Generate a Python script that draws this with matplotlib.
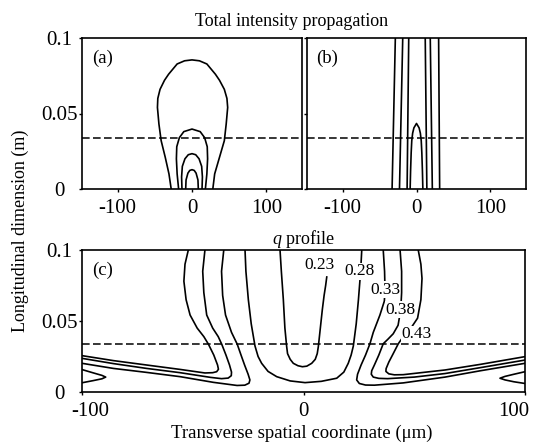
import numpy as np
import matplotlib
matplotlib.use("Agg")
import matplotlib.pyplot as plt
from matplotlib.transforms import ScaledTranslation

plt.rcParams['font.family'] = ['Liberation Serif', 'DejaVu Serif']
plt.rcParams['mathtext.fontset'] = 'custom'
plt.rcParams['mathtext.rm'] = 'Liberation Serif'
plt.rcParams['mathtext.it'] = 'Liberation Serif:italic'
plt.rcParams['axes.unicode_minus'] = False

# ---- data: x in um, z in m ----
z_mark = 0.034  # dashed reference plane

# (a) total intensity, closed contours sitting on z = 0
a_x1 = [-28, -31, -36, -41.5, -44.5, -46.5, -46, -43, -37, -31.5, -20, -10, 0,
        10, 20, 31.5, 37, 43.5, 47, 48, 46, 43.5, 37, 30.5, 28]
a_z1 = [0, 0.010, 0.021, 0.032, 0.043, 0.054, 0.060, 0.066, 0.072, 0.076, 0.0828, 0.0849, 0.0855,
        0.0849, 0.0828, 0.076, 0.072, 0.066, 0.060, 0.054, 0.043, 0.032, 0.021, 0.010, 0]
a_x2 = [-18, -20, -21, -20.5, -17, -11, 0, 11, 17, 20.5, 21, 20, 18]
a_z2 = [0, 0.010, 0.020, 0.028, 0.034, 0.038, 0.0397, 0.038, 0.034, 0.028, 0.020, 0.010, 0]
a_x3 = [-13.5, -14, -13, -9.5, -5, 0, 5, 9.5, 13, 14, 13.5]
a_z3 = [0, 0.008, 0.015, 0.020, 0.0227, 0.0234, 0.0227, 0.020, 0.015, 0.008, 0]
a_x4 = [-8.5, -8, -5.5, -3, 0, 3, 5.5, 8, 8.5]
a_z4 = [0, 0.006, 0.0105, 0.0123, 0.0128, 0.0123, 0.0105, 0.006, 0]

# (b) near-vertical contours (bottom x, top x) and the small arch
b_x_bot = [-33, -23, -12.7, 14, 21.4, 31.3]
b_x_top = [-28.6, -18.6, -10.5, 11.8, 18.6, 29.9]
b_arch_x = [-8.6, -8, -7.2, -6.4, -5.2, -3.5, 0, 3.5, 5.2, 6.4, 7.2, 8, 8.6]
b_arch_z = [0, 0.012, 0.024, 0.032, 0.037, 0.0405, 0.0434, 0.0405, 0.037, 0.032, 0.024, 0.012, 0]

# (c) q profile contours
q023_x = [-10.6, -10, -9.1, -8.4, -7.6, -7.2, -6, -4.6, -2.5, -0.5, 1.5, 3.7, 5.3, 6.2, 6.7,
          7.6, 8.5, 9.3, 10, 10.5]
q023_z = [0.1, 0.085, 0.065, 0.045, 0.032, 0.027, 0.023, 0.0202, 0.0185, 0.0178, 0.0182, 0.0202,
          0.023, 0.027, 0.032, 0.045, 0.058, 0.068, 0.075, 0.081]
q028_x = [-26.4, -26, -24.9, -23.6, -21.9, -20.5, -18.9, -16, -12.1, -6, 0.7, 8, 15, 18.2,
          20.2, 21.5, 22.5, 23.8, 24.8, 25.8, 26.3]
q028_z = [0.1, 0.085, 0.065, 0.048, 0.0324, 0.025, 0.0202, 0.0145, 0.0108, 0.0078, 0.0066,
          0.0075, 0.0097, 0.014, 0.0202, 0.026, 0.0324, 0.048, 0.065, 0.085, 0.1]

q033_left_x = [-36, -37, -36.5, -35.2, -32.5, -29.9, -28.2, -26.6, -25, -24.2, -24.6, -26.5,
               -30, -40.7, -55.7, -70.8, -85.8, -100]
q033_left_z = [0.1, 0.085, 0.068, 0.0542, 0.042, 0.0336, 0.026, 0.019, 0.0125, 0.0085, 0.0062,
               0.0048, 0.0046, 0.0068, 0.0108, 0.0138, 0.0166, 0.0202]
q038_left_x = [-44.5, -45.5, -45, -43.7, -41, -38.5, -36.9, -35, -33.4, -32.5, -32.6, -34,
               -37, -42, -55.7, -70.8, -85.8, -100]
q038_left_z = [0.1, 0.085, 0.07, 0.0542, 0.045, 0.039, 0.0336, 0.026, 0.019, 0.014, 0.0115,
               0.0098, 0.0094, 0.0103, 0.0136, 0.0166, 0.02, 0.0237]
q043_left_x = [-52, -53.5, -54, -53, -51.2, -48, -45, -42.9, -40.5, -38.8, -38.4, -39.2, -41,
               -44.5, -55.7, -70.8, -85.8, -100]
q043_left_z = [0.1, 0.09, 0.078, 0.065, 0.0542, 0.045, 0.039, 0.0336, 0.026, 0.019, 0.016,
               0.0143, 0.0136, 0.0134, 0.0159, 0.019, 0.0221, 0.0256]
tongue_left_x = [-100, -95, -91, -89.3, -91, -95, -100]
tongue_left_z = [0.0158, 0.0135, 0.0117, 0.0105, 0.0093, 0.008, 0.0065]

q033_right_x = [36, 36.6, 36.8, 36.5, 34.5, 31.5, 30, 28, 26, 24.4, 24, 25.2, 28, 32, 45,
                63.9, 80, 100]
q033_right_z = [0.1, 0.085, 0.072, 0.064, 0.0542, 0.042, 0.034, 0.026, 0.019, 0.0125, 0.0085,
                0.006, 0.0049, 0.0048, 0.0064, 0.0105, 0.015, 0.0202]
q038_right_x = [43.6, 44.3, 44.3, 43.9, 42.7, 40.5, 38, 36, 34, 32, 30.8, 30.6, 31.5, 34, 38,
                50, 63.9, 80, 100]
q038_right_z = [0.1, 0.085, 0.07, 0.058, 0.047, 0.041, 0.037, 0.034, 0.026, 0.019, 0.015,
                0.0125, 0.0105, 0.0096, 0.0094, 0.0105, 0.013, 0.0172, 0.0225]
q043_right_x = [51.8, 53, 53.5, 53, 51.5, 48.5, 45.5, 42.8, 40.5, 38.5, 37.3, 37.2, 38.5, 41,
                45, 63.9, 80, 100]
q043_right_z = [0.1, 0.09, 0.08, 0.065, 0.052, 0.045, 0.04, 0.034, 0.027, 0.021, 0.0165,
                0.0145, 0.0128, 0.0121, 0.0122, 0.0155, 0.0195, 0.0249]
tongue_right_x = [100, 95, 91, 88.7, 91, 95, 100]
tongue_right_z = [0.0143, 0.0125, 0.011, 0.0097, 0.0085, 0.0072, 0.006]

q_labels = ['0.23', '0.28', '0.33', '0.38', '0.43']
q_label_x = [7, 25.3, 36.8, 43.9, 51]
q_label_z = [0.0895, 0.085, 0.072, 0.058, 0.0405]

# ---- figure ----
W, H = 535, 445
fig = plt.figure(figsize=(W / 100, H / 100), dpi=100)


def box(left, top, right, bottom):
    return [left / W, 1 - bottom / H, (right - left) / W, (bottom - top) / H]


ax_a = fig.add_axes(box(82, 38, 302, 189))
ax_b = fig.add_axes(box(307, 38, 526, 189))
ax_c = fig.add_axes(box(82, 250, 525, 392))

LW = 1.2
line_kw = dict(color='black', lw=LW, solid_joinstyle='round')
dash_kw = dict(color='black', lw=1.1, ls=(0, (5, 2.2)))

for x, z in [(a_x1, a_z1), (a_x2, a_z2), (a_x3, a_z3), (a_x4, a_z4)]:
    ax_a.plot(x, z, **line_kw)

for xb, xt in zip(b_x_bot, b_x_top):
    ax_b.plot([xb, xt], [0, 0.1], **line_kw)
ax_b.plot(b_arch_x, b_arch_z, **line_kw)

for x, z in [(q023_x, q023_z), (q028_x, q028_z),
             (q033_left_x, q033_left_z), (q038_left_x, q038_left_z),
             (q043_left_x, q043_left_z), (tongue_left_x, tongue_left_z),
             (q033_right_x, q033_right_z), (q038_right_x, q038_right_z),
             (q043_right_x, q043_right_z), (tongue_right_x, tongue_right_z)]:
    ax_c.plot(x, z, **line_kw)

for lab, x, z in zip(q_labels, q_label_x, q_label_z):
    ax_c.text(x, z, lab, fontsize=12.5, ha='center', va='center', zorder=4,
              bbox=dict(facecolor='white', edgecolor='none', pad=0.2))

for ax in (ax_a, ax_b, ax_c):
    ax.axhline(z_mark, **dash_kw)
    ax.set_ylim(0, 0.1)
    ax.set_yticks([0, 0.05, 0.1])
    ax.tick_params(direction='out', length=2.5, width=1, labelsize=15)
    ax.tick_params(axis='x', pad=5)
    ax.tick_params(axis='y', pad=14)
    for s in ax.spines.values():
        s.set_linewidth(1.2)

for ax in (ax_a, ax_b):
    ax.set_xlim(-148, 148)
    ax.set_xticks([-100, 0, 100])
    ax.set_xticklabels(['-100', '0', '100'])
ax_a.set_yticklabels(['0', '0.05', '0.1'])
ax_b.set_yticklabels([])
ax_c.set_xlim(-100, 100)
ax_c.set_xticks([-100, 0, 100])
ax_c.set_xticklabels(['-100', '0', '100'])
ax_c.set_yticklabels(['0', '0.05', '0.1'])

# y tick labels are centred in the reference
for ax in (ax_a, ax_c):
    for lab in ax.get_yticklabels():
        lab.set_ha('center')

# end labels of (c) are pulled inside the axis span
xl = ax_c.get_xticklabels()
xl[0].set_transform(xl[0].get_transform() + ScaledTranslation(8 / 100, 0, fig.dpi_scale_trans))
xl[-1].set_transform(xl[-1].get_transform() + ScaledTranslation(-11 / 100, 0, fig.dpi_scale_trans))

ax_a.text(0.045, 0.92, '(a)', transform=ax_a.transAxes, fontsize=13.5, va='top')
ax_b.text(0.04, 0.92, '(b)', transform=ax_b.transAxes, fontsize=13.5, va='top')
ax_c.text(0.023, 0.915, '(c)', transform=ax_c.transAxes, fontsize=13.5, va='top')

fig.text(292 / W, 1 - 21 / H, 'Total intensity propagation', fontsize=13,
         ha='center', va='center')
ax_c.set_title(r'$q$ profile', fontsize=13, pad=4)
fig.text(20 / W, 1 - 231 / H, 'Longitudinal dimension (m)', fontsize=13,
         rotation=90, ha='center', va='center')
fig.text(302 / W, 1 - 433 / H, 'Transverse spatial coordinate (\u03bcm)', fontsize=13.5,
         ha='center', va='center')

fig.savefig('out.png', dpi=100)
